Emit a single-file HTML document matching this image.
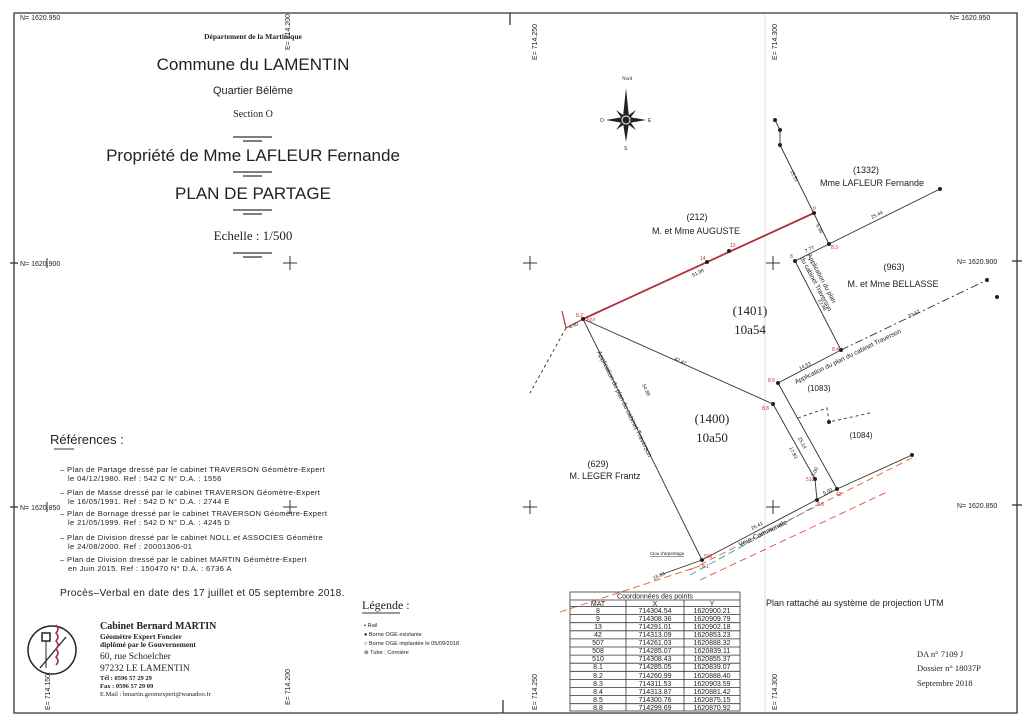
<!DOCTYPE html>
<html><head><meta charset="utf-8"><style>
body{margin:0;background:#fff}
svg{display:block}
.s{font-family:"Liberation Sans",sans-serif;fill:#222}
.r{font-family:"Liberation Serif",serif;fill:#222}
.red{fill:#c0303a}
</style></head><body>
<svg width="1024" height="724" viewBox="0 0 1024 724" xmlns="http://www.w3.org/2000/svg">
<rect width="1024" height="724" fill="#fff"/>
<g stroke="#333" stroke-width="1.3" fill="none">
<path d="M14 13 L1017 13 L1017 713 L14 713 Z"/>
<line x1="510" y1="13" x2="510" y2="25"/><line x1="503" y1="700" x2="503" y2="713"/>
<line x1="10" y1="263" x2="18" y2="263"/><line x1="10" y1="507" x2="18" y2="507"/>
<line x1="1012" y1="261" x2="1022" y2="261"/><line x1="1012" y1="505" x2="1022" y2="505"/>
</g>
<line x1="765" y1="14" x2="765" y2="712" stroke="#ddd" stroke-width="1"/>
<g class="s" font-size="7">
<text x="20" y="20">N= 1620.950</text>
<text x="20" y="266">N= 1620.900</text>
<text x="20" y="510">N= 1620.850</text>
<text x="950" y="20">N= 1620.950</text>
<text x="957" y="264">N= 1620.900</text>
<text x="957" y="508">N= 1620.850</text>
<text transform="translate(290,50) rotate(-90)">E= 714.200</text>
<text transform="translate(537,60) rotate(-90)">E= 714.250</text>
<text transform="translate(777,60) rotate(-90)">E= 714.300</text>
<text transform="translate(50,710) rotate(-90)">E= 714.150</text>
<text transform="translate(290,705) rotate(-90)">E= 714.200</text>
<text transform="translate(537,710) rotate(-90)">E= 714.250</text>
<text transform="translate(777,710) rotate(-90)">E= 714.300</text>
</g>
<g stroke="#333" stroke-width="1">
<path d="M283 263h14M290 256v14M523 263h14M530 256v14M766 263h14M773 256v14M283 507h14M290 500v14M523 507h14M530 500v14M766 507h14M773 500v14M47 258v10M47 502v10"/>
</g>
<g text-anchor="middle">
<text x="253" y="39" class="r" font-size="7.5" font-weight="bold">Département de la Martinique</text>
<text x="253" y="70" class="s" font-size="17">Commune du LAMENTIN</text>
<text x="253" y="94" class="s" font-size="11">Quartier Bélème</text>
<text x="253" y="117" class="r" font-size="10">Section  O</text>
<text x="253" y="161" class="s" font-size="17">Propriété de Mme LAFLEUR Fernande</text>
<text x="253" y="199" class="s" font-size="17">PLAN DE PARTAGE</text>
<text x="253" y="240" class="r" font-size="13">Echelle :  1/500</text>
</g>
<g stroke="#333" stroke-width="1.2">
<path d="M233 137h39M243 141h19M233 172h39M243 176h19M233 210h39M243 214h19M233 253h39M243 257h19"/>
</g>
<text x="50" y="444" class="s" font-size="13">Références :</text>
<line x1="54" y1="449" x2="74" y2="449" stroke="#333"/>
<g class="s" font-size="7.6" letter-spacing="0.35">
<text x="60" y="472">–  Plan de Partage dressé par le cabinet TRAVERSON Géomètre-Expert</text>
<text x="68" y="481">le 04/12/1980.  Ref :  542 C   N° D.A. :  1556</text>
<text x="60" y="495">–  Plan de Masse dressé par le cabinet TRAVERSON Géomètre-Expert</text>
<text x="68" y="504">le 16/05/1991.  Ref :  542 D   N° D.A. :  2744 E</text>
<text x="60" y="516">–  Plan de Bornage dressé par le cabinet TRAVERSON Géomètre-Expert</text>
<text x="68" y="525">le 21/05/1999.  Ref :  542 D   N° D.A. :  4245 D</text>
<text x="60" y="540">–  Plan de Division dressé par le cabinet NOLL et ASSOCIES Géomètre</text>
<text x="68" y="549">le 24/08/2000.  Ref :  20001306-01</text>
<text x="60" y="562">–  Plan de Division dressé par le cabinet MARTIN Géomètre-Expert</text>
<text x="68" y="571">en Juin 2015.  Ref :  150470  N° D.A. :  6736 A</text>
</g>
<text x="60" y="596" class="s" font-size="10.2" letter-spacing="0.3">Procès–Verbal en date des 17 juillet et 05 septembre 2018.</text>
<text x="362" y="609" class="r" font-size="12">Légende :</text>
<line x1="362" y1="613" x2="400" y2="613" stroke="#333"/>
<g class="s" font-size="5.6">
<text x="364" y="627">▪  Rail</text>
<text x="364" y="636">●  Borne OGE existante</text>
<text x="364" y="645">○  Borne OGE implantée le 05/09/2018</text>
<text x="364" y="654">⊗  Tube ; Cornière</text>
</g>
<circle cx="52" cy="650" r="24" fill="none" stroke="#222" stroke-width="1.5"/>
<rect x="42" y="633" width="8" height="8" fill="none" stroke="#222" stroke-width="1.5"/>
<line x1="46" y1="641" x2="46" y2="668" stroke="#222"/>
<line x1="40" y1="668" x2="66" y2="637" stroke="#222" stroke-width="1.3"/>
<path d="M56 625 q4 4 0 8 q4 4 0 8 q4 4 0 8 q4 4 0 8 q4 4 0 8" stroke="#a03050" fill="none" stroke-width="1.5"/>
<g class="r" font-weight="bold">
<text x="100" y="629" font-size="10">Cabinet Bernard MARTIN</text>
<text x="100" y="639" font-size="7.5">Géomètre Expert Foncier</text>
<text x="100" y="647" font-size="7.5">diplômé par le Gouvernement</text>
<text x="100" y="659" font-size="9.5" font-weight="normal">60, rue Schoelcher</text>
<text x="100" y="671" font-size="9.5" font-weight="normal">97232 LE LAMENTIN</text>
<text x="100" y="680" font-size="6.5">Tél :  0596 57 29 29</text>
<text x="100" y="688" font-size="6.5">Fax :  0596 57 29 09</text>
<text x="100" y="696" font-size="6.5" font-weight="normal">E.Mail :  bmartin.geomexpert@wanadoo.fr</text>
</g>
<g transform="translate(626,120)" fill="#222">
<polygon points="0,-32 3,-3 0,0 -3,-3"/><polygon points="0,22 3,3 0,0 -3,3"/>
<polygon points="-20,0 -3,-3 0,0 -3,3"/><polygon points="20,0 3,-3 0,0 3,3"/>
<polygon points="-10,-10 0,-3 0,0 -3,0"/><polygon points="10,-10 0,-3 0,0 3,0"/>
<polygon points="-10,10 0,3 0,0 -3,0"/><polygon points="10,10 0,3 0,0 3,0"/>
<circle r="4" fill="none" stroke="#fff" stroke-width="1"/>
<text x="-4" y="-40" class="r" font-size="5">Nord</text>
<text x="-26" y="2" class="s" font-size="5">O</text><text x="22" y="2" class="s" font-size="5">E</text><text x="-2" y="30" class="s" font-size="5">S</text>
</g>
<g stroke="#333" stroke-width="0.9" fill="none">
<line x1="775" y1="120" x2="780" y2="130"/><line x1="780" y1="130" x2="780" y2="145"/>
<line x1="780" y1="145" x2="829" y2="244"/>
<line x1="795" y1="261" x2="829" y2="244"/><line x1="829" y1="244" x2="940" y2="189"/>
<line x1="795" y1="261" x2="841" y2="350"/>
<line x1="583" y1="319" x2="773" y2="404"/>
<line x1="583" y1="319" x2="702" y2="560"/>
<line x1="773" y1="404" x2="815" y2="479"/><line x1="815" y1="479" x2="817" y2="500"/>
<line x1="778" y1="383" x2="841" y2="350"/>
<line x1="778" y1="383" x2="837" y2="489"/>
<line x1="837" y1="489" x2="912" y2="455"/>
<line x1="702" y1="560" x2="837" y2="489"/>
<line x1="660" y1="575" x2="702" y2="560"/>
<path d="M841 350 L987 280" stroke-dasharray="8 3 2 3"/>
<path d="M566 328 L530 393" stroke-dasharray="3 3"/>
<path d="M798 418 L827 408 L829 422 L870 413" stroke-dasharray="3 3"/>
</g>
<line x1="583" y1="319" x2="814" y2="213" stroke="#b0303a" stroke-width="1.8"/>
<path d="M562 311 L566 328 L583 319" stroke="#b0303a" stroke-width="1.2" fill="none"/>
<g fill="none" stroke-width="0.9" stroke-dasharray="7 4">
<path d="M690 570 L912 458" stroke="#e06030"/>
<path d="M700 580 L887 492" stroke="#e05040"/>
<path d="M690 575 L817 505" stroke="#30a0a0"/>
<path d="M560 612 L700 566" stroke="#e06030"/>
</g>
<g fill="#222">
<circle cx="775" cy="120" r="2"/><circle cx="780" cy="130" r="2"/><circle cx="780" cy="145" r="2"/>
<circle cx="814" cy="213" r="2"/><circle cx="829" cy="244" r="2"/><circle cx="940" cy="189" r="2"/>
<circle cx="795" cy="261" r="2"/><circle cx="841" cy="350" r="2"/><circle cx="987" cy="280" r="2"/>
<circle cx="997" cy="297" r="2"/><circle cx="778" cy="383" r="2"/><circle cx="773" cy="404" r="2"/>
<circle cx="815" cy="479" r="2"/><circle cx="837" cy="489" r="2"/><circle cx="817" cy="500" r="2"/>
<circle cx="912" cy="455" r="2"/><circle cx="702" cy="560" r="2"/><circle cx="583" cy="319" r="2"/>
<circle cx="729" cy="251" r="2"/><circle cx="707" cy="262" r="2"/><circle cx="829" cy="422" r="2"/>
</g>
<g class="s red" font-size="5">
<text x="813" y="210">9</text><text x="831" y="249">8.3</text><text x="730" y="247">13</text><text x="700" y="260">14</text>
<text x="790" y="258">8</text><text x="832" y="351">8.4</text><text x="768" y="382">8.5</text><text x="762" y="410">8.8</text>
<text x="806" y="481">510</text><text x="836" y="496">42</text><text x="817" y="506">8.6</text>
<text x="576" y="317">8.2</text><text x="587" y="322">507</text><text x="704" y="558">508</text><text x="702" y="568">8.1</text>
</g>
<g class="s" font-size="5">
<text transform="translate(790,171) rotate(63)">15.51</text>
<text transform="translate(816,225) rotate(63)">6.96</text>
<text x="806" y="253" transform="rotate(-26 806 253)">7.77</text>
<text x="872" y="219" transform="rotate(-26 872 219)">25.44</text>
<text x="693" y="277" transform="rotate(-26 693 277)">51.98</text>
<text x="570" y="329" transform="rotate(-26 570 329)">4.40</text>
<text x="674" y="360" transform="rotate(24 674 360)">42.47</text>
<text transform="translate(642,385) rotate(64)">54.88</text>
<text transform="translate(818,300) rotate(62)">22.98</text>
<text x="909" y="318" transform="rotate(-26 909 318)">33.67</text>
<text x="800" y="370" transform="rotate(-26 800 370)">14.53</text>
<text transform="translate(798,438) rotate(62)">25.14</text>
<text transform="translate(789,448) rotate(62)">17.83</text>
<text x="814" y="477" transform="rotate(-64 814 477)">3.00</text>
<text x="824" y="495" transform="rotate(-26 824 495)">5.00</text>
<text x="752" y="530" transform="rotate(-26 752 530)">26.41</text>
<text x="654" y="580" transform="rotate(-26 654 580)">18.83</text>
<text x="650" y="555" font-size="4.5" text-decoration="underline">Clou d'arpentage</text>
</g>
<g class="s" font-size="6.5">
<text transform="translate(597,352) rotate(64)">Application du plan du cabinet Traverson</text>
<text transform="translate(807,255) rotate(62)">Application du plan</text>
<text transform="translate(800,258) rotate(62)">du cabinet Traverson</text>
<text transform="translate(796,384) rotate(-26)">Application du plan du cabinet Traverson</text>
<text transform="translate(740,547) rotate(-26)" font-size="7">Voie        Communale</text>
</g>
<g class="s" font-size="9" text-anchor="middle">
<text x="697" y="220">(212)</text><text x="696" y="234">M. et Mme AUGUSTE</text>
<text x="866" y="173">(1332)</text><text x="872" y="186">Mme LAFLEUR Fernande</text>
<text x="894" y="270">(963)</text><text x="893" y="287">M. et Mme BELLASSE</text>
<text x="598" y="467">(629)</text><text x="605" y="479">M. LEGER Frantz</text>
<text x="819" y="391" font-size="8">(1083)</text><text x="861" y="438" font-size="8">(1084)</text>
</g>
<g class="r" font-size="13" text-anchor="middle">
<text x="750" y="315">(1401)</text><text x="750" y="334">10a54</text>
<text x="712" y="423">(1400)</text><text x="712" y="442">10a50</text>
</g>
<g stroke="#333" stroke-width="0.8" fill="none">
<rect x="570" y="592" width="170" height="119"/>
<line x1="570" y1="600" x2="740" y2="600"/>
<line x1="626" y1="600" x2="626" y2="711"/><line x1="684" y1="600" x2="684" y2="711"/>
<path d="M570 606.5h170M570 614.6h170M570 622.7h170M570 630.8h170M570 638.9h170M570 647h170M570 655.1h170M570 663.2h170M570 671.3h170M570 679.4h170M570 687.5h170M570 695.6h170M570 703.7h170"/>
</g>
<g class="s" font-size="7" text-anchor="middle">
<text x="655" y="598.5">Coordonnées des points</text>
<text x="598" y="606">MAT</text><text x="655" y="606">X</text><text x="712" y="606">Y</text>
<text x="598" y="613">8</text><text x="655" y="613">714304.54</text><text x="712" y="613">1620900.21</text>
<text x="598" y="621">9</text><text x="655" y="621">714308.36</text><text x="712" y="621">1620909.79</text>
<text x="598" y="629">13</text><text x="655" y="629">714291.01</text><text x="712" y="629">1620902.18</text>
<text x="598" y="637">42</text><text x="655" y="637">714313.09</text><text x="712" y="637">1620853.23</text>
<text x="598" y="645">507</text><text x="655" y="645">714261.03</text><text x="712" y="645">1620888.32</text>
<text x="598" y="653">508</text><text x="655" y="653">714285.07</text><text x="712" y="653">1620839.11</text>
<text x="598" y="661">510</text><text x="655" y="661">714308.43</text><text x="712" y="661">1620855.37</text>
<text x="598" y="669">8.1</text><text x="655" y="669">714285.05</text><text x="712" y="669">1620839.07</text>
<text x="598" y="678">8.2</text><text x="655" y="678">714260.99</text><text x="712" y="678">1620888.40</text>
<text x="598" y="686">8.3</text><text x="655" y="686">714311.53</text><text x="712" y="686">1620903.59</text>
<text x="598" y="694">8.4</text><text x="655" y="694">714313.87</text><text x="712" y="694">1620881.42</text>
<text x="598" y="702">8.5</text><text x="655" y="702">714300.76</text><text x="712" y="702">1620875.15</text>
<text x="598" y="710">8.8</text><text x="655" y="710">714299.69</text><text x="712" y="710">1620870.92</text>
</g>
<text x="766" y="606" class="s" font-size="9">Plan rattaché au système de projection UTM</text>
<g class="r" font-size="8.5">
<text x="917" y="657">DA n° 7109 J</text>
<text x="917" y="671">Dossier n° 18037P</text>
<text x="917" y="686">Septembre 2018</text>
</g>
</svg>
</body></html>
